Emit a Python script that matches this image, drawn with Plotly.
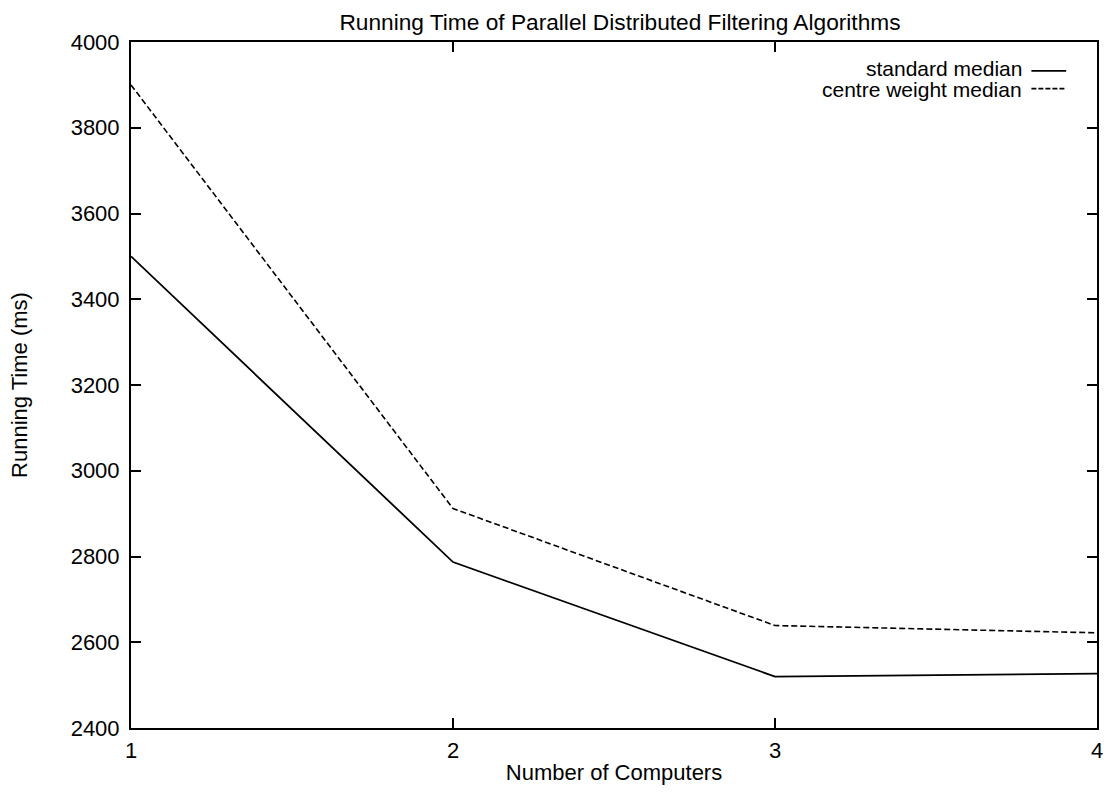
import plotly.graph_objects as go

computers = [1, 2, 3, 4]
standard_median = [3500, 2787, 2520, 2527]
centre_weight_median = [3900, 2912, 2639, 2622]
y_ticks = [2400, 2600, 2800, 3000, 3200, 3400, 3600, 3800, 4000]
series_names = ["standard median", "centre weight median"]

FONT = "Liberation Sans, Arial, Helvetica, sans-serif"
PLOT_L, PLOT_R, PLOT_T, PLOT_B = 131, 1103, 42, 733
PW, PH = PLOT_R - PLOT_L, PLOT_B - PLOT_T


def px_x(p):
    return (p - PLOT_L) / PW


def px_y(p):
    return 1 - (p - PLOT_T) / PH


fig = go.Figure()
fig.add_trace(go.Scatter(x=computers, y=standard_median, mode="lines",
                         name=series_names[0], showlegend=False,
                         line=dict(color="black", width=1.8)))
fig.add_trace(go.Scatter(x=computers, y=centre_weight_median, mode="lines",
                         name=series_names[1], showlegend=False,
                         line=dict(color="black", width=1.6, dash="6px,3px")))

# legend (gnuplot style: text right-aligned, sample to the right)
legend_rows = [(series_names[0], "solid", 69, 71), (series_names[1], "5px,2px", 90, 89)]
for nm, dash, ty, ly in legend_rows:
    fig.add_annotation(xref="paper", yref="paper", x=px_x(1030), y=px_y(ty),
                       text=nm, showarrow=False, xanchor="right", yanchor="middle",
                       font=dict(family=FONT, size=21, color="black"))
    fig.add_shape(type="line", xref="paper", yref="paper",
                  x0=px_x(1037), x1=px_x(1072), y0=px_y(ly), y1=px_y(ly),
                  line=dict(color="black", width=1.8, dash=dash))

axis_common = dict(showline=True, linecolor="black", linewidth=2, mirror="ticks",
                   ticks="inside", ticklen=10, tickwidth=1.5, tickcolor="black",
                   showgrid=False, zeroline=False,
                   tickfont=dict(family=FONT, size=22, color="black"))

fig.update_xaxes(range=[1, 4], tickvals=computers, ticktext=[str(c) for c in computers],
                 ticklabelstandoff=2,
                 title=dict(text="Number of Computers", standoff=2,
                            font=dict(family=FONT, size=22, color="black")),
                 **axis_common)
fig.update_yaxes(range=[2400, 4000], tickvals=y_ticks, ticktext=[str(v) for v in y_ticks],
                 ticklabelstandoff=5,
                 title=dict(text="Running Time (ms)", standoff=37,
                            font=dict(family=FONT, size=22, color="black")),
                 **axis_common)

fig.update_layout(
    width=1115, height=793,
    margin=dict(l=PLOT_L, r=1115 - PLOT_R, t=PLOT_T, b=793 - PLOT_B),
    paper_bgcolor="white", plot_bgcolor="white",
    title=dict(text="Running Time of Parallel Distributed Filtering Algorithms",
               x=px_x(623), xref="paper", xanchor="center",
               y=1 - 22 / 793, yref="container", yanchor="middle",
               font=dict(family=FONT, size=22.7, color="black")),
)

fig.write_html("out.html")
